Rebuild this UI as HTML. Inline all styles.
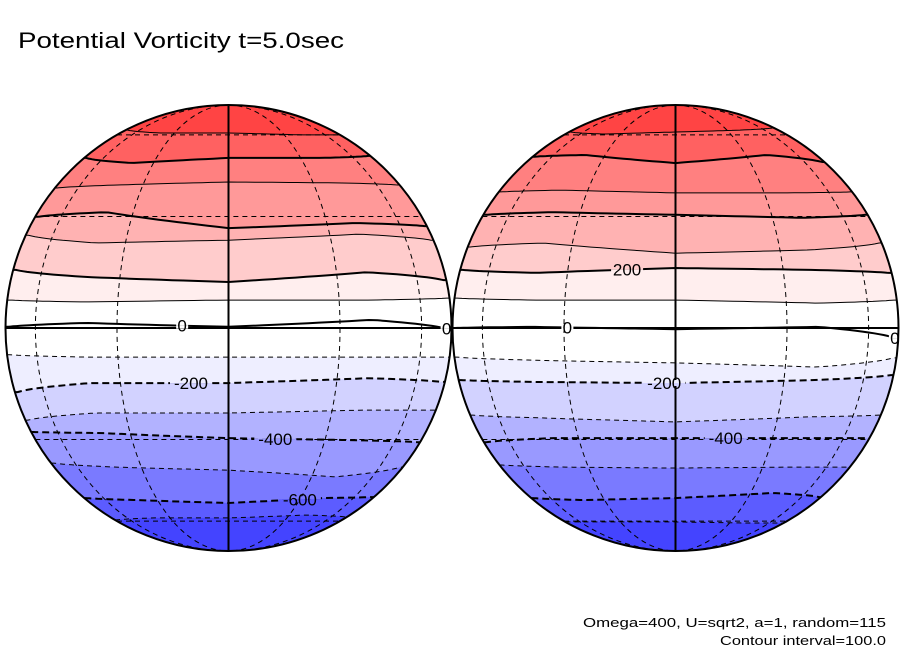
<!DOCTYPE html>
<html><head><meta charset="utf-8"><style>
html,body{margin:0;padding:0;background:#fff;}
svg{display:block;font-family:"Liberation Sans",sans-serif;}
</style></head><body>
<svg id="chart" width="904" height="654" viewBox="0 0 904 654" xmlns="http://www.w3.org/2000/svg">
<text x="18" y="48" font-size="22" textLength="326" lengthAdjust="spacingAndGlyphs">Potential Vorticity t=5.0sec</text>
<text x="886" y="627" font-size="13" text-anchor="end" textLength="303" lengthAdjust="spacingAndGlyphs">Omega=400, U=sqrt2, a=1, random=115</text>
<text x="886" y="645" font-size="13" text-anchor="end" textLength="166" lengthAdjust="spacingAndGlyphs">Contour interval=100.0</text>
</svg>
<script>
const levels = [700,600,500,400,300,200,100,0,-100,-200,-300,-400,-500,-600,-700];
const sampleLons = [-80,-40,0,40,80];
const leftLats = [
 [62.6,61.0,61.0,60.0,60.0],[49.7,47.7,49.7,49.7,50.5],[38.9,39.9,40.9,40.6,39.9],
 [29.9,31.3,26.6,28.1,27.2],[24.6,22.4,23.2,24.9,23.2],[15.1,13.2,11.9,14.5,12.4],
 [7.2,6.7,7.2,7.2,7.7],[0.3,1.3,0.3,2.1,-0.3],[-6.9,-7.5,-7.5,-7.5,-7.5],
 [-16.7,-14.3,-14.3,-13.0,-14.0],[-24.4,-22.4,-22.4,-21.6,-21.6],[-27.8,-28.1,-29.6,-30.2,-30.8],
 [-37.3,-38.6,-39.6,-41.9,-38.6],[-49.7,-50.5,-51.7,-49.7,-49.3],[-59.4,-58.4,-58.4,-57.0,-57.9]];
const rightLats = [
 [61.5,60.4,61.5,62.6,63.8],[50.2,50.9,47.7,50.9,48.1],[37.6,38.2,37.3,37.3,37.6],
 [30.5,31.3,30.5,29.6,30.5],[21.3,22.4,19.6,20.5,22.4],[15.1,14.3,15.6,15.1,14.3],
 [7.7,7.2,7.2,6.4,7.2],[0,0.3,-0.3,0.3,-2.6],[-7.5,-8.3,-9.0,-10.1,-7.7],
 [-13.5,-14.0,-14.3,-13.5,-12.2],[-23.0,-23.8,-24.9,-23.5,-23.0],[-30.8,-29.6,-29.6,-29.6,-29.6],
 [-37.9,-38.6,-38.9,-38.6,-38.6],[-49.7,-50.5,-49.7,-47.7,-49.3],[-60.4,-60.4,-60.4,-61.0,-61.0]];
const bandColors = ['#ff4444','#ff6161','#ff8080','#ff9999','#ffb2b2','#ffcccc','#ffeeee','#ffffff','#ffffff','#eeeeff','#d2d2ff','#b2b2ff','#9999ff','#7a7aff','#5c5cff','#4444ff'];
const leftLabels = [[0,-12],[0,78],[-200,-10],[-400,14],[-600,30]];
const rightLabels = [[200,-13],[0,-29],[0,80],[-200,-3],[-400,15]];
const gridLats = [-60,-30,30,60];
const gridLons = [-60,-30,30,60];

const NS='http://www.w3.org/2000/svg';
const svg=document.getElementById('chart');
const R=223, CY=328, D=Math.PI/180;
function mk(tag,attrs,parent){const e=document.createElementNS(NS,tag);for(const k in attrs)e.setAttribute(k,attrs[k]);(parent||svg).appendChild(e);return e;}
function latAt(samples,lon){
  if(lon<=sampleLons[0])return samples[0];
  for(let i=0;i<sampleLons.length-1;i++){
    if(lon<=sampleLons[i+1]){const t=(lon-sampleLons[i])/(sampleLons[i+1]-sampleLons[i]);return samples[i]+t*(samples[i+1]-samples[i]);}
  }
  return samples[samples.length-1];
}
function proj(cx,lat,lon){return [cx+R*Math.cos(lat*D)*Math.sin(lon*D), CY-R*Math.sin(lat*D)];}
function contourPts(cx,samples){const p=[];for(let lon=-90;lon<=90;lon+=3)p.push(proj(cx,latAt(samples,lon),lon));return p;}

function drawGlobe(cx,lats,labels,id){
  const g=mk('g',{});
  
  
  const cp=mk('clipPath',{id:'clip-'+id},g);
  mk('circle',{cx:cx,cy:CY,r:R},cp);
  const inner=mk('g',{'clip-path':'url(#clip-'+id+')'},g);
  const bg=mk('rect',{x:cx-R-5,y:CY-R-5,width:2*R+10,height:2*R+10,fill:bandColors[0]},inner);
  
  
  lats.forEach((s,i)=>{
    const p=contourPts(cx,s);
    const d='M'+(cx-R-5)+','+p[0][1]+' '+p.map(q=>'L'+q[0].toFixed(1)+','+q[1].toFixed(1)).join(' ')+' L'+(cx+R+5)+','+p[p.length-1][1]+' L'+(cx+R+5)+','+(CY+R+5)+' L'+(cx-R-5)+','+(CY+R+5)+'Z';
    const b=mk('path',{d:d,fill:bandColors[i+1]},inner);
    
    
  });
  gridLats.forEach(la=>{
    const y=CY-R*Math.sin(la*D), hw=R*Math.cos(la*D);
    const l=mk('line',{x1:cx-hw,y1:y,x2:cx+hw,y2:y,stroke:'#000','stroke-width':1,'stroke-dasharray':'5,4'},inner);
    
    
  });
  gridLons.forEach(lo=>{
    const rx=Math.abs(R*Math.sin(lo*D));
    const d='M'+cx+','+(CY-R)+' A'+rx+','+R+' 0 0 '+(lo>0?1:0)+' '+cx+','+(CY+R);
    const m=mk('path',{d:d,fill:'none',stroke:'#000','stroke-width':1,'stroke-dasharray':'5,4'},inner);
    
    
  });
  lats.forEach((s,i)=>{
    const lv=levels[i];
    const p=contourPts(cx,s);
    const thick=(Math.abs(lv)%200===0);
    const attrs={points:p.map(q=>q[0].toFixed(1)+','+q[1].toFixed(1)).join(' '),fill:'none',stroke:'#000','stroke-width':thick?2:1};
    if(lv<0)attrs['stroke-dasharray']=thick?'7,4':'5,4';
    const c=mk('polyline',attrs,inner);
    
    
  });
  const eq=mk('line',{x1:cx-R,y1:CY,x2:cx+R,y2:CY,stroke:'#000','stroke-width':2},inner);
  
  
  const cm=mk('line',{x1:cx,y1:CY-R,x2:cx,y2:CY+R,stroke:'#000','stroke-width':2},inner);
  
  
  labels.forEach(([lv,lon])=>{
    const i=levels.indexOf(lv);
    const [x,y]=proj(cx,latAt(lats[i],lon),lon);
    const txt=(lv<0?'-':'')+Math.abs(lv);
    const w=txt.length*10+2;
    const top=mk('rect',{x:x-w/2,y:y-3,width:w,height:3,fill:bandColors[i]},inner);
    
    
    const bot=mk('rect',{x:x-w/2,y:y,width:w,height:3,fill:bandColors[i+1]},inner);
    
    
    const t=mk('text',{x:x,y:y+6,'font-size':17,'text-anchor':'middle'},inner);
    t.textContent=txt;
    
    
  });
  const o=mk('circle',{cx:cx,cy:CY,r:R,fill:'none',stroke:'#000','stroke-width':2},g);
  
  
}
drawGlobe(228.5,leftLats,leftLabels,'left-globe');
drawGlobe(675.5,rightLats,rightLabels,'right-globe');
</script>
</body></html>
